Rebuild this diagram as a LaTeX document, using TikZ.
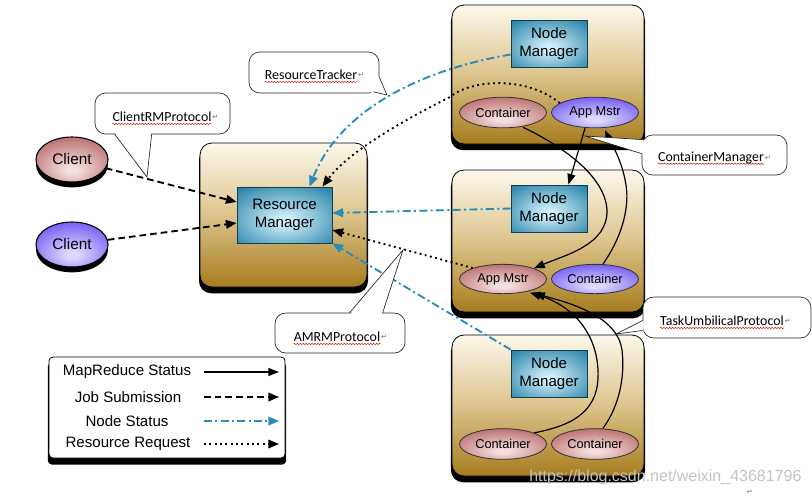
\documentclass[tikz,border=0pt]{standalone}
\usepackage{fontspec}
\setmainfont{Liberation Sans}
\newfontfamily\cfont{Carlito}
\newfontfamily\djv{DejaVu Sans}
\usetikzlibrary{arrows.meta,shapes.geometric,shadows,calc,decorations.pathmorphing}
\definecolor{cream}{RGB}{252,248,236}
\definecolor{tanmid}{RGB}{220,196,140}
\definecolor{goldbot}{RGB}{166,124,30}
\definecolor{tealout}{RGB}{38,130,168}
\definecolor{tealin}{RGB}{210,240,250}
\definecolor{tealdraw}{RGB}{20,60,80}
\definecolor{redout}{RGB}{176,92,92}
\definecolor{redin}{RGB}{244,222,222}
\definecolor{blueout}{RGB}{98,70,240}
\definecolor{bluein}{RGB}{222,216,255}
\definecolor{nsblue}{RGB}{38,140,185}
\definecolor{wmgray}{RGB}{195,195,195}
\pgfdeclareradialshading{tealsh}{\pgfpoint{0bp}{-5bp}}{color(0bp)=(tealin); color(3bp)=(tealin); color(36bp)=(tealout); color(80bp)=(tealout)}
\pgfdeclareradialshading{redsh}{\pgfpoint{0bp}{-12bp}}{color(0bp)=(redin); color(4bp)=(redin); color(38bp)=(redout); color(80bp)=(redout)}
\pgfdeclareradialshading{bluesh}{\pgfpoint{0bp}{-12bp}}{color(0bp)=(bluein); color(4bp)=(bluein); color(38bp)=(blueout); color(80bp)=(blueout)}
\begin{document}
\begin{tikzpicture}[x=0.75pt,y=-0.75pt,
  outerbox/.style={draw=black, line width=0.6pt, rounded corners=9pt,
    top color=cream, bottom color=goldbot, middle color=tanmid, inner sep=0pt,
    drop shadow={shadow xshift=0pt, shadow yshift=-4pt, opacity=1, fill=black, shadow scale=1.012}},
  mgr/.style={draw=tealdraw, line width=0.6pt, shading=tealsh,
    align=center, inner sep=0pt, font=\fontsize{11.3}{13.2}\selectfont},
  ell/.style={ellipse, draw=black!80, line width=0.6pt, inner sep=0pt,
    minimum width=65.25pt, minimum height=23pt, font=\fontsize{9.6}{10}\selectfont},
  redell/.style={ell, shading=redsh},
  blueell/.style={ell, shading=bluesh},
  client/.style={ellipse, draw=black, line width=0.8pt, inner sep=0pt,
    minimum width=54pt, minimum height=33.75pt, font=\fontsize{11.5}{12}\selectfont,
    drop shadow={shadow xshift=0pt, shadow yshift=-4pt, opacity=1, fill=black}},
  callout/.style={draw=black!85, line width=0.5pt, fill=white, rounded corners=8pt, inner sep=0pt},
  ctext/.style={font=\cfont\fontsize{10.4}{12}\selectfont, inner sep=0pt},
  retmark/.style={font=\djv\fontsize{5.5}{6}\selectfont, text=black!55, inner sep=0.3pt, anchor=west},
  wavy/.style={red!80!black, line width=0.35pt, decorate,
    decoration={snake, amplitude=0.45pt, segment length=2.2pt}},
  pointer/.style={draw=black!85, line width=0.5pt},
  tipshape/.style={-{Triangle[length=8pt,width=6.5pt]}},
  js/.style={tipshape, line width=1.4pt, dash pattern=on 5pt off 3pt},
  ns/.style={tipshape, nsblue, line width=1.4pt, dash pattern=on 6pt off 2.5pt on 1.5pt off 2.5pt},
  rr/.style={tipshape, line width=1.4pt, dash pattern=on 1.4pt off 2.6pt},
  mr/.style={-{Triangle[length=8pt,width=6pt]}, line width=0.9pt},
  legtext/.style={font=\fontsize{11.3}{12}\selectfont, inner sep=0pt}
]
\useasboundingbox (0,0) rectangle (812,496);

% ---------- boxes ----------
\node[outerbox, minimum width=125.25pt, minimum height=108pt] (rmbox) at (283.5,215) {};
\node[mgr, minimum width=71.25pt, minimum height=42pt] (rm) at (284.5,215) {Resource\\Manager};

\node[outerbox, minimum width=144pt, minimum height=104.25pt] (nmbox1) at (548,74.5) {};
\node[mgr, minimum width=57pt, minimum height=35.25pt] (nm1) at (549,43.5) {Node\\Manager};
\node[redell] (c11) at (503,112.5) {Container};
\node[blueell] (am1) at (595,112.5) {App Mstr};

\node[outerbox, minimum width=144pt, minimum height=106.5pt] (nmbox2) at (548,241) {};
\node[mgr, minimum width=57pt, minimum height=35.25pt] (nm2) at (549,208.5) {Node\\Manager};
\node[redell, minimum height=22pt] (am2) at (503,279) {App Mstr};
\node[blueell, minimum height=22pt] (c22) at (595,279) {Container};

\node[outerbox, minimum width=144pt, minimum height=105.75pt] (nmbox3) at (548,405.5) {};
\node[mgr, minimum width=57pt, minimum height=35.25pt] (nm3) at (549,373.5) {Node\\Manager};
\node[redell] (c31) at (503,444) {Container};
\node[redell] (c32) at (595,444) {Container};

% ---------- clients ----------
\node[client, shading=redsh] (cl1) at (72,159.5) {Client};
\node[client, shading=bluesh] (cl2) at (72,244.5) {Client};

% ---------- legend ----------
\node[draw=black, line width=0.6pt, fill=white, rounded corners=3pt, minimum width=177pt, minimum height=75.75pt,
  drop shadow={shadow xshift=0pt, shadow yshift=-4.5pt, opacity=1, fill=black, shadow scale=1.01}] (leg) at (167,407.5) {};
\node[legtext] (lg1) at (127,372) {MapReduce Status};
\node[legtext] (lg2) at (128,397) {Job Submission};
\node[legtext] (lg3) at (127,421) {Node Status};
\node[legtext] (lg4) at (128,444) {Resource Request};
\coordinate (l1a) at (204,372); \coordinate (l1b) at (279,372);
\coordinate (l2a) at (204,397); \coordinate (l2b) at (279,397);
\coordinate (l3a) at (204,421); \coordinate (l3b) at (279,421);
\coordinate (l4a) at (204,444); \coordinate (l4b) at (279,444);
\draw[mr, line width=1pt] (l1a) -- (l1b);
\draw[js, line width=1.1pt] (l2a) -- (l2b);
\draw[ns, line width=1.1pt] (l3a) -- (l3b);
\draw[rr, line width=1.1pt] (l4a) -- (l4b);

% ---------- connectors ----------
% job submission
\draw[js] (cl1) -- ($(rm.west)+(0,-13)$);
\draw[js] (cl2) -- ($(rm.west)+(0,8)$);
% node status
\draw[ns] ($(nm1.west)+(0,11)$) .. controls (420,70) and (340,110) .. ($(rm.north)+(25,0)$);
\draw[ns] (nm2.west) -- ($(rm.east)+(0,-2)$);
\draw[ns] (nm3.north west) -- (rm.south east);
% resource request
\draw[rr] (am1.165) .. controls (525,75) and (470,80) .. (450,97)
  .. controls (410,117) and (350,150) .. ($(rm.north east)+(-10,0)$);
\draw[rr] (am2.160) -- ($(rm.east)+(0,15)$);
% mapreduce status
\draw[mr] ($(am1.south)+(-10,0)$) -- ($(nm2.north east)+(-19,0)$);
\draw[mr] ($(c11.south)+(20,-1)$) .. controls (560,145) and (605,175) .. (607,210)
  .. controls (608,245) and (565,255) .. (am2.north east);
\draw[mr] ($(c22.north)+(8,0)$) .. controls (620,240) and (630,210) .. (626,185)
  .. controls (622,160) and (612,145) .. ($(am1.south)+(10,2)$);
\draw[mr] (c31.north east) .. controls (575,425) and (600,410) .. (598,370)
  .. controls (596,330) and (570,305) .. ($(am2.south east)+(-4,3)$);
\draw[mr] ($(c32.north)+(8,0)$) .. controls (620,405) and (625,375) .. (622,350)
  .. controls (618,320) and (580,305) .. ($(am2.south east)+(0,4)$);

% ---------- callouts ----------
% ClientRMProtocol
\node[callout, minimum width=101.25pt, minimum height=30.75pt] (crmb) at (162.5,113.5) {};
\coordinate (crmtip) at (147,177);
\fill[white] ($(crmb.south west)+(21,-1.2)$) -- (crmtip) -- ($(crmb.south west)+(56,-1.2)$) -- cycle;
\draw[pointer] ($(crmb.south west)+(20,0)$) -- (crmtip) -- ($(crmb.south west)+(57,0)$);
\node[ctext] (crmt) at (162,117) {ClientRMProtocol};
\node[retmark] (crmr) at (crmt.east) {↵};
\draw[wavy] ($(crmt.base west)+(0,2.2)$) -- ($(crmt.base east)+(0,2.2)$);

% ResourceTracker
\node[callout, minimum width=97.5pt, minimum height=30.75pt] (rtb) at (314,72.5) {};
\coordinate (rttip) at (387,95);
\fill[white] ($(rtb.south east)+(-0.8,-17)$) -- (rttip) -- ($(rtb.south east)+(-9,-0.8)$) -- (368,82) -- cycle;
\draw[pointer] ($(rtb.south east)+(0,-16)$) -- (rttip) -- ($(rtb.south east)+(-6,-1.5)$);
\node[ctext] (rtt) at (311,75) {ResourceTracker};
\node[retmark] (rtr) at (rtt.east) {↵};
\draw[wavy] ($(rtt.base west)+(0,2.2)$) -- ($(rtt.base east)+(0,2.2)$);

% ContainerManager
\node[callout, minimum width=108.75pt, minimum height=30pt] (cmb) at (714.5,155) {};
\coordinate (cmtip) at (585,136);
\fill[white] ($(cmb.north west)+(2,5)$) -- (cmtip) -- ($(cmb.north west)+(1,19)$) -- cycle;
\draw[pointer] ($(cmb.north west)+(1.5,5)$) -- (cmtip) -- ($(cmb.north west)+(0,19)$);
\node[ctext] (cmt) at (711,158) {ContainerManager};
\node[retmark] (cmr) at (cmt.east) {↵};
\draw[wavy] ($(cmt.base west)+(0,2.2)$) -- ($(cmt.base east)+(0,2.2)$);

% TaskUmbilicalProtocol
\node[callout, minimum width=126pt, minimum height=30.75pt] (tub) at (727,317.5) {};
\coordinate (tutip) at (616,334);
\fill[white] ($(tub.west)+(1,3)$) -- (tutip) -- ($(tub.west)+(1,13)$) -- cycle;
\draw[pointer] ($(tub.west)+(0,3)$) -- (tutip) -- ($(tub.west)+(0,13)$);
\node[ctext] (tut) at (722,321) {TaskUmbilicalProtocol};
\node[retmark] (tur) at (tut.east) {↵};
\draw[wavy] ($(tut.base west)+(0,2.2)$) -- ($(tut.base east)+(0,2.2)$);

% AMRMProtocol
\node[callout, minimum width=97.5pt, minimum height=30pt] (amb) at (340,333) {};
\coordinate (amtip) at (403,250);
\fill[white] ($(amb.north west)+(76,1.2)$) -- (amtip) -- ($(amb.north west)+(107,1.2)$) -- cycle;
\draw[pointer] ($(amb.north west)+(75,0)$) -- (amtip) -- ($(amb.north west)+(108,0)$);
\node[ctext] (amt) at (337,337) {AMRMProtocol};
\node[retmark] (amr) at (amt.east) {↵};
\draw[wavy] ($(amt.base west)+(0,2.2)$) -- ($(amt.base east)+(0,2.2)$);

% ---------- watermark ----------
\node[anchor=west, inner sep=0pt, text=wmgray, font=\fontsize{12}{14}\selectfont] (wm) at (529,477) {https://blog.csdn.net/weixin\_43681796};
\node[retmark] (wmr) at (746,492) {↵};
\end{tikzpicture}
\end{document}
